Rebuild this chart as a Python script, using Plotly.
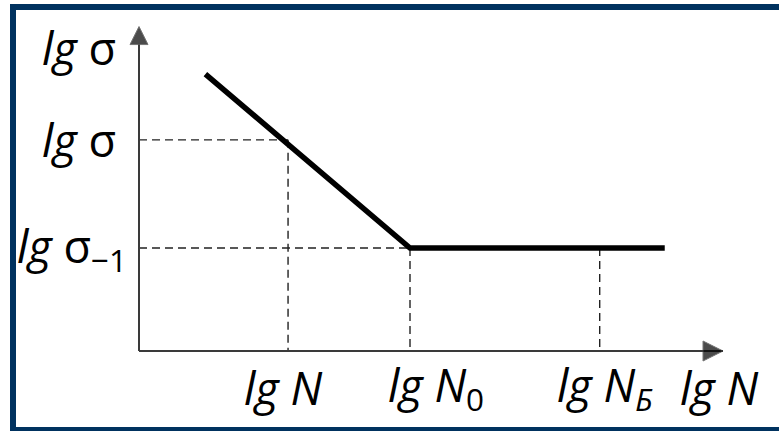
import plotly.graph_objects as go

# ---- data (schematic fatigue curve, log-log) ----
curve_lgN = [2.45, 10.0, 19.4]          # start, knee (lg N0), end of plateau
curve_lgS = [10.75, 4.0, 4.0]
mark_lgN = [5.5, 10.0, 17.0]            # lg N, lg N0, lg N_B
mark_lgS = [8.2, 4.0, 4.0]              # lg sigma, lg sigma_-1, lg sigma_-1
mark_h_dash = [True, True, False]       # draw horizontal dashed guide
axis_end = [21.55, 12.6]                # x, y axis extents
x_labels = ["<i>lg</i> <i>N</i>", "<i>lg</i> <i>N</i><sub>0</sub>", "<i>lg</i> <i>N</i><sub><i>Б</i></sub>"]
y_labels = ["<i>lg</i> σ", "<i>lg</i> σ<sub>−1</sub>"]
axis_titles = ["<i>lg</i> <i>N</i>", "<i>lg</i> σ"]

# ---- layout / placement (pixels) ----
W, H = 779, 431
x_rng = [-139 / 27.1, (W - 139) / 27.1]
y_rng = [(351 - H) / 25.75, 351 / 25.75]
x_label_shift = [-46, -24, -45]         # left edge of each x label relative to its mark
y_label_shift = [-21, -10]
FONT = "Open Sans"
lab_font = dict(family=FONT, size=45, color="black")

fig = go.Figure()

# dashed guide lines
gx, gy = [], []
for xv, yv, hd in zip(mark_lgN, mark_lgS, mark_h_dash):
    if hd:
        gx += [0, xv, None]
        gy += [yv, yv, None]
    gx += [xv, xv, None]
    gy += [yv, 0, None]
fig.add_trace(go.Scatter(x=gx, y=gy, mode="lines",
                         line=dict(color="#222222", width=1.4, dash="8px,5px"),
                         hoverinfo="skip", showlegend=False))

# axes with arrow heads
fig.add_trace(go.Scatter(x=[0, axis_end[0]], y=[0, 0], mode="lines+markers",
                         line=dict(color="#3a3a3a", width=2),
                         marker=dict(symbol=["circle", "arrow-right"], size=[0, 20], color="black"),
                         hoverinfo="skip", showlegend=False))
fig.add_trace(go.Scatter(x=[0, 0], y=[0, axis_end[1]], mode="lines+markers",
                         line=dict(color="#3a3a3a", width=2),
                         marker=dict(symbol=["circle", "arrow-up"], size=[0, 18], color="black"),
                         hoverinfo="skip", showlegend=False))

# main curve
fig.add_trace(go.Scatter(x=curve_lgN, y=curve_lgS, mode="lines",
                         line=dict(color="black", width=5.5),
                         hoverinfo="skip", showlegend=False))

anns = []
# x labels
for xv, t, sh in zip(mark_lgN, x_labels, x_label_shift):
    anns.append(dict(x=xv, y=0, xref="x", yref="y", text=t, showarrow=False,
                     xanchor="left", yanchor="middle", xshift=sh, yshift=-36, font=lab_font))
# y labels
for yv, t, sh in zip(mark_lgS[:2], y_labels, y_label_shift):
    anns.append(dict(x=0, y=yv, xref="x", yref="y", text=t, showarrow=False,
                     xanchor="right", yanchor="middle", xshift=sh, font=lab_font))
# axis titles
anns.append(dict(x=axis_end[0], y=0, xref="x", yref="y", text=axis_titles[0], showarrow=False,
                 xanchor="left", yanchor="middle", xshift=-45, yshift=-36, font=lab_font))
anns.append(dict(x=0, y=axis_end[1], xref="x", yref="y", text=axis_titles[1], showarrow=False,
                 xanchor="right", yanchor="middle", xshift=-21, yshift=-21, font=lab_font))

fig.update_layout(
    width=W, height=H,
    margin=dict(l=0, r=0, t=0, b=0),
    paper_bgcolor="white", plot_bgcolor="white",
    xaxis=dict(range=x_rng, visible=False, fixedrange=True),
    yaxis=dict(range=y_rng, visible=False, fixedrange=True),
    annotations=anns,
    shapes=[dict(type="rect", xref="paper", yref="paper",
                 x0=13 / W, x1=1.02, y0=1 / H, y1=1 - 7 / H,
                 line=dict(color="#00325f", width=6), layer="above")],
)

fig.write_html("out.html", config={"displayModeBar": False},
               post_script="document.body.style.margin='0';document.body.style.padding='0';")
